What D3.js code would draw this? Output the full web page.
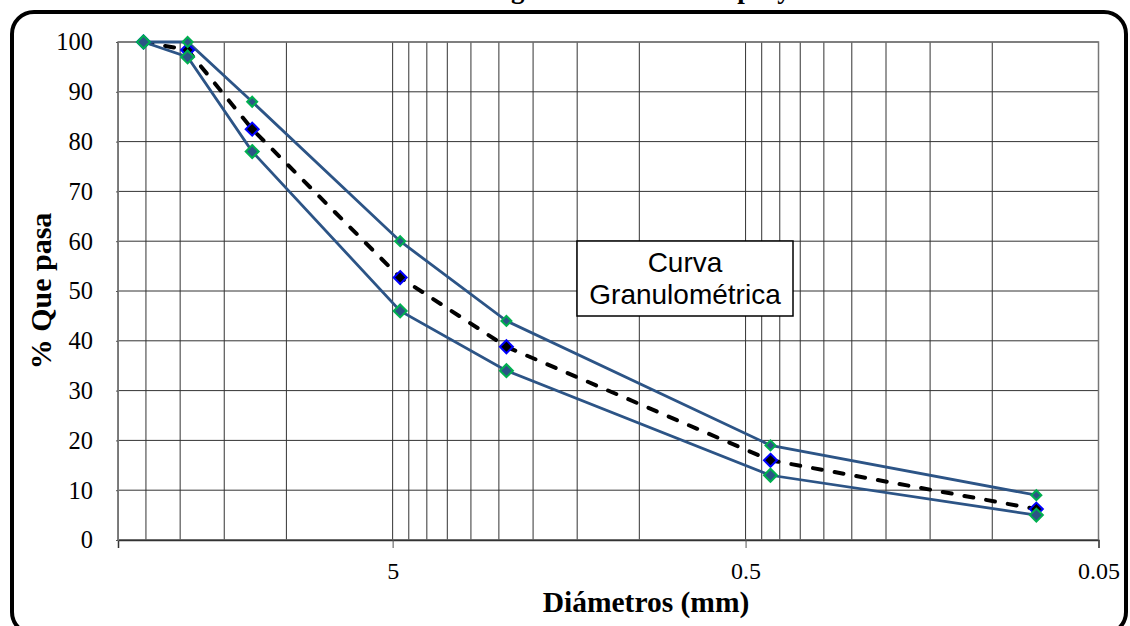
<!DOCTYPE html>
<html>
<head>
<meta charset="utf-8">
<script src="https://cdn.jsdelivr.net/npm/d3@7"></script>
<style>
  html, body { margin: 0; padding: 0; background: #fff; }
  svg { display: block; }
</style>
</head>
<body>
<svg id="chart" width="1130" height="626"></svg>
<script>
// tamices (mm) y % que pasa
const diametros = [25.4, 19.05, 12.5, 4.76, 2.38, 0.425, 0.075];
const pasaMuestra = [100, 98.4, 82.5, 52.7, 38.8, 16.0, 6.2];
const limiteSuperior = [100, 100, 88, 60, 44, 19, 9];
const limiteInferior = [100, 97, 78, 46, 34, 13, 5];
const xTicks = [5, 0.5, 0.05];
const yTicks = [0, 10, 20, 30, 40, 50, 60, 70, 80, 90, 100];

const svg = d3.select('#chart');
const plotL = 118, plotR = 1098.5, plotT = 42, plotB = 540;

const x = d3.scaleLog().domain([30, 0.05]).range([plotL, plotR]);
const y = d3.scaleLinear().domain([0, 100]).range([plotB, plotT]);

// titulo (cortado arriba, como en el original)
svg.append('text')
  .attr('x', 634).attr('y', -2)
  .attr('text-anchor', 'middle')
  .attr('font-family', '"Liberation Serif", "Times New Roman", serif')
  .attr('font-weight', 'bold')
  .attr('font-size', 27)
  .text('Curva granulométrica del proyecto');

// marco redondeado
svg.append('rect')
  .attr('x', 12).attr('y', 12)
  .attr('width', 1114).attr('height', 622)
  .attr('rx', 22)
  .attr('fill', 'none')
  .attr('stroke', '#000')
  .attr('stroke-width', 4);

// lineas de division menores en escala log
const minor = [];
[0.05, 0.5, 5].forEach(b => {
  for (let k = 1; k <= 9; k++) {
    const v = b * k;
    if (v <= 30) minor.push(v);
  }
});

const grid = svg.append('g');
grid.selectAll('line.v')
  .data(minor)
  .enter().append('line')
  .attr('class', 'v')
  .attr('x1', d => x(d)).attr('x2', d => x(d))
  .attr('y1', plotT).attr('y2', plotB)
  .attr('stroke', '#333').attr('stroke-width', 1);

grid.selectAll('line.h')
  .data(yTicks)
  .enter().append('line')
  .attr('class', 'h')
  .attr('x1', plotL).attr('x2', plotR)
  .attr('y1', d => y(d)).attr('y2', d => y(d))
  .attr('stroke', '#333').attr('stroke-width', 1);

// borde del area de trazado
svg.append('rect')
  .attr('x', plotL).attr('y', plotT)
  .attr('width', plotR - plotL).attr('height', plotB - plotT)
  .attr('fill', 'none')
  .attr('stroke', '#777').attr('stroke-width', 1.5);

// eje x
const xAxis = d3.axisBottom(x)
  .tickValues(xTicks)
  .tickFormat(d => String(d))
  .tickSize(8)
  .tickPadding(14);
const gx = svg.append('g')
  .attr('transform', `translate(0,${plotB})`)
  .call(xAxis);
gx.select('.domain').attr('stroke', '#333').attr('stroke-width', 1.5);
gx.selectAll('.tick line').attr('stroke', '#555');
gx.selectAll('.tick text')
  .attr('font-family', '"Liberation Serif", "Times New Roman", serif')
  .attr('font-size', 24)
  .attr('fill', '#000');

// eje y
const yAxis = d3.axisLeft(y)
  .tickValues(yTicks)
  .tickSize(2)
  .tickPadding(23);
const gy = svg.append('g')
  .attr('transform', `translate(${plotL},0)`)
  .call(yAxis);
gy.select('.domain').attr('stroke', '#777');
gy.selectAll('.tick line').attr('stroke', '#555');
gy.selectAll('.tick text')
  .attr('font-family', '"Liberation Serif", "Times New Roman", serif')
  .attr('font-size', 24.5)
  .attr('fill', '#000');

// titulos de ejes
svg.append('text')
  .attr('x', 646).attr('y', 612)
  .attr('text-anchor', 'middle')
  .attr('font-family', '"Liberation Serif", "Times New Roman", serif')
  .attr('font-weight', 'bold')
  .attr('font-size', 29.5)
  .text('Diámetros (mm)');

svg.append('text')
  .attr('transform', 'translate(51,291) rotate(-90)')
  .attr('text-anchor', 'middle')
  .attr('font-family', '"Liberation Serif", "Times New Roman", serif')
  .attr('font-weight', 'bold')
  .attr('font-size', 30)
  .text('% Que pasa');

// series
const pts = vals => diametros.map((d, i) => [d, vals[i]]);
const line = d3.line().x(d => x(d[0])).y(d => y(d[1]));

const series = [
  { vals: pasaMuestra, color: '#000', width: 4, dash: '9,13', fill: '#000', mstroke: '#0000ff', r: 6.5 },
  { vals: limiteSuperior, color: '#2c5486', width: 2.8, dash: null, fill: '#2c5486', mstroke: '#00b050', r: 5 },
  { vals: limiteInferior, color: '#2c5486', width: 2.8, dash: null, fill: '#2c5486', mstroke: '#00b050', r: 6.5 }
];

series.forEach(s => {
  svg.append('path')
    .datum(pts(s.vals))
    .attr('d', line)
    .attr('fill', 'none')
    .attr('stroke', s.color)
    .attr('stroke-width', s.width)
    .attr('stroke-linecap', s.dash ? 'round' : 'butt')
    .attr('stroke-dasharray', s.dash);
});

const diamond = r => `M0,${-r}L${r},0L0,${r}L${-r},0Z`;
series.forEach(s => {
  svg.append('g').selectAll('path')
    .data(pts(s.vals))
    .enter().append('path')
    .attr('transform', d => `translate(${x(d[0])},${y(d[1])})`)
    .attr('d', diamond(s.r))
    .attr('fill', s.fill)
    .attr('stroke', s.mstroke)
    .attr('stroke-width', 2);
});

// cuadro de texto
const box = svg.append('g');
box.append('rect')
  .attr('x', 577).attr('y', 241)
  .attr('width', 216).attr('height', 75)
  .attr('fill', '#fff')
  .attr('stroke', '#000').attr('stroke-width', 1.5);
box.append('text')
  .attr('x', 685).attr('y', 272)
  .attr('text-anchor', 'middle')
  .attr('font-family', '"Liberation Sans", Arial, sans-serif')
  .attr('font-size', 28)
  .text('Curva');
box.append('text')
  .attr('x', 685).attr('y', 304)
  .attr('text-anchor', 'middle')
  .attr('font-family', '"Liberation Sans", Arial, sans-serif')
  .attr('font-size', 28)
  .text('Granulométrica');
</script>
</body>
</html>
